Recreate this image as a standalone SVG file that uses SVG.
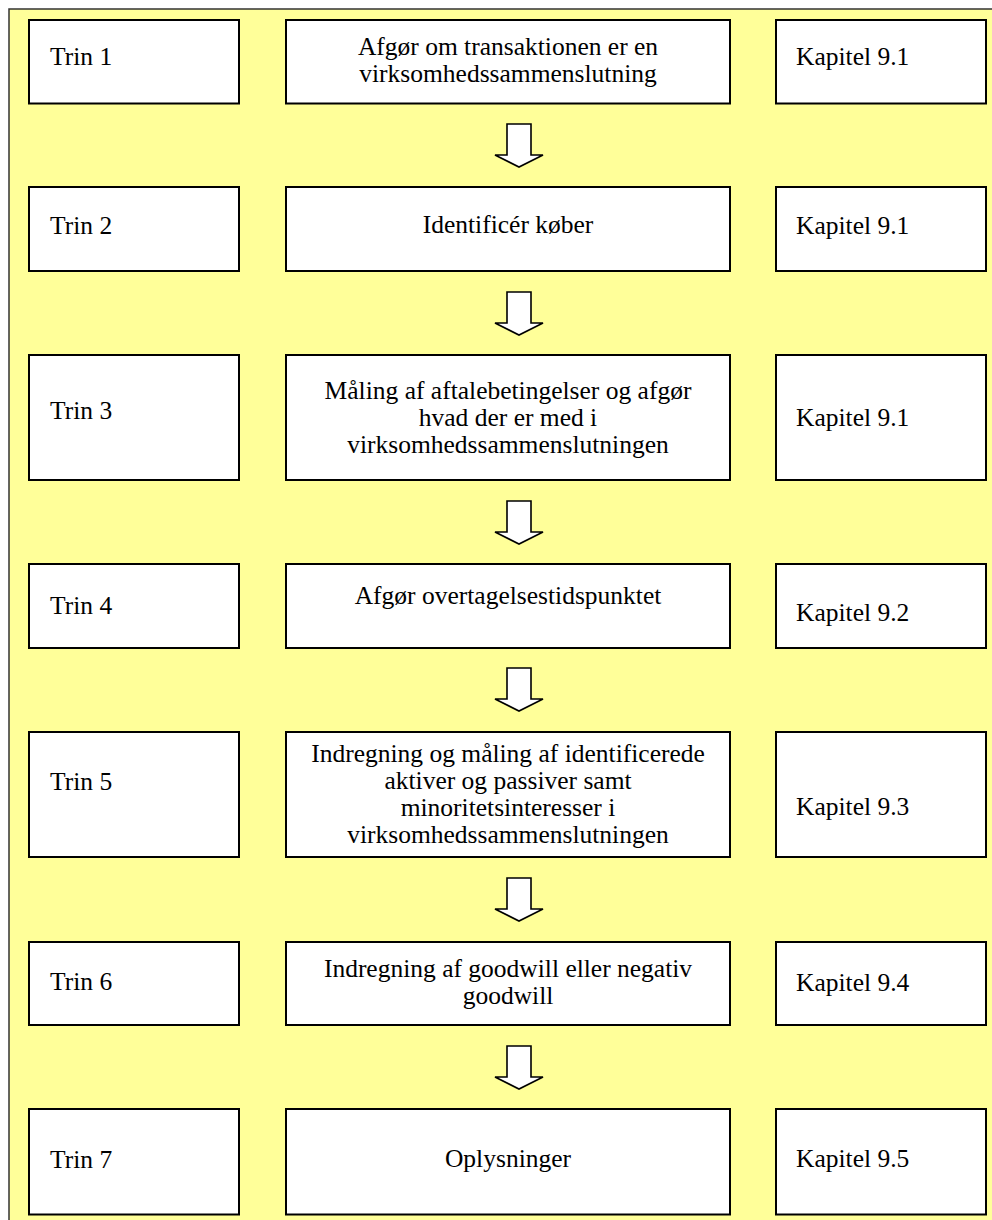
<svg xmlns="http://www.w3.org/2000/svg" width="992" height="1220" viewBox="0 0 992 1220">
  <defs>
    <style>
      .frame { fill: #FFFF99; stroke: #333333; stroke-width: 1.5; }
      .box { fill: #FFFFFF; stroke: #000000; stroke-width: 2; }
      .arrow { fill: #FFFFFF; stroke: #000000; stroke-width: 1.6; stroke-linejoin: miter; }
      text { font-family: 'Liberation Serif', 'DejaVu Serif', serif; font-size: 25.5px; fill: #000000; }
      .c { text-anchor: middle; }
    </style>
    <!-- block arrow pointing down, origin at top-centre of the shaft -->
    <path id="downArrow" class="arrow" d="M -12 0 L 12 0 L 12 31 L 24 31 L 0 43 L -24 31 L -12 31 Z"/>
  </defs>

  <!-- yellow background panel (continues past the right and bottom edges) -->
  <rect class="frame" x="9" y="9" width="1010" height="1240"/>

  <g font-family="Liberation Serif, DejaVu Serif, serif">
  <g id="step1">
    <rect class="box" x="29" y="20" width="210" height="83.5"/>
    <text x="50" y="65">Trin 1</text>
    <rect class="box" x="286" y="20" width="444" height="83.5"/>
    <text class="c" x="508" y="55">Afgør om transaktionen er en</text>
    <text class="c" x="508" y="82">virksomhedssammenslutning</text>
    <rect class="box" x="776" y="20" width="210" height="83.5"/>
    <text x="796" y="65">Kapitel 9.1</text>
  </g>

  <g id="step2">
    <rect class="box" x="29" y="187" width="210" height="84"/>
    <text x="50" y="234">Trin 2</text>
    <rect class="box" x="286" y="187" width="444" height="84"/>
    <text class="c" x="508" y="233">Identificér køber</text>
    <rect class="box" x="776" y="187" width="210" height="84"/>
    <text x="796" y="234">Kapitel 9.1</text>
  </g>

  <g id="step3">
    <rect class="box" x="29" y="355" width="210" height="125"/>
    <text x="50" y="419">Trin 3</text>
    <rect class="box" x="286" y="355" width="444" height="125"/>
    <text class="c" x="508" y="399">Måling af aftalebetingelser og afgør</text>
    <text class="c" x="508" y="426">hvad der er med i</text>
    <text class="c" x="508" y="453">virksomhedssammenslutningen</text>
    <rect class="box" x="776" y="355" width="210" height="125"/>
    <text x="796" y="426">Kapitel 9.1</text>
  </g>

  <g id="step4">
    <rect class="box" x="29" y="564" width="210" height="84"/>
    <text x="50" y="614">Trin 4</text>
    <rect class="box" x="286" y="564" width="444" height="84"/>
    <text class="c" x="508" y="604">Afgør overtagelsestidspunktet</text>
    <rect class="box" x="776" y="564" width="210" height="84"/>
    <text x="796" y="621">Kapitel 9.2</text>
  </g>

  <g id="step5">
    <rect class="box" x="29" y="732" width="210" height="125"/>
    <text x="50" y="790">Trin 5</text>
    <rect class="box" x="286" y="732" width="444" height="125"/>
    <text class="c" x="508" y="762">Indregning og måling af identificerede</text>
    <text class="c" x="508" y="789">aktiver og passiver samt</text>
    <text class="c" x="508" y="816">minoritetsinteresser i</text>
    <text class="c" x="508" y="843">virksomhedssammenslutningen</text>
    <rect class="box" x="776" y="732" width="210" height="125"/>
    <text x="796" y="815">Kapitel 9.3</text>
  </g>

  <g id="step6">
    <rect class="box" x="29" y="942" width="210" height="83"/>
    <text x="50" y="990">Trin 6</text>
    <rect class="box" x="286" y="942" width="444" height="83"/>
    <text class="c" x="508" y="977">Indregning af goodwill eller negativ</text>
    <text class="c" x="508" y="1004">goodwill</text>
    <rect class="box" x="776" y="942" width="210" height="83"/>
    <text x="796" y="991">Kapitel 9.4</text>
  </g>

  <g id="step7">
    <rect class="box" x="29" y="1109" width="210" height="105.5"/>
    <text x="50" y="1168">Trin 7</text>
    <rect class="box" x="286" y="1109" width="444" height="105.5"/>
    <text class="c" x="508" y="1167">Oplysninger</text>
    <rect class="box" x="776" y="1109" width="210" height="105.5"/>
    <text x="796" y="1167">Kapitel 9.5</text>
  </g>
  </g>

  <!-- connectors between consecutive steps -->
  <g id="connectors">
    <use href="#downArrow" x="519" y="124"/>
    <use href="#downArrow" x="519" y="292"/>
    <use href="#downArrow" x="519" y="501"/>
    <use href="#downArrow" x="519" y="668"/>
    <use href="#downArrow" x="519" y="878"/>
    <use href="#downArrow" x="519" y="1046"/>
  </g>
</svg>
